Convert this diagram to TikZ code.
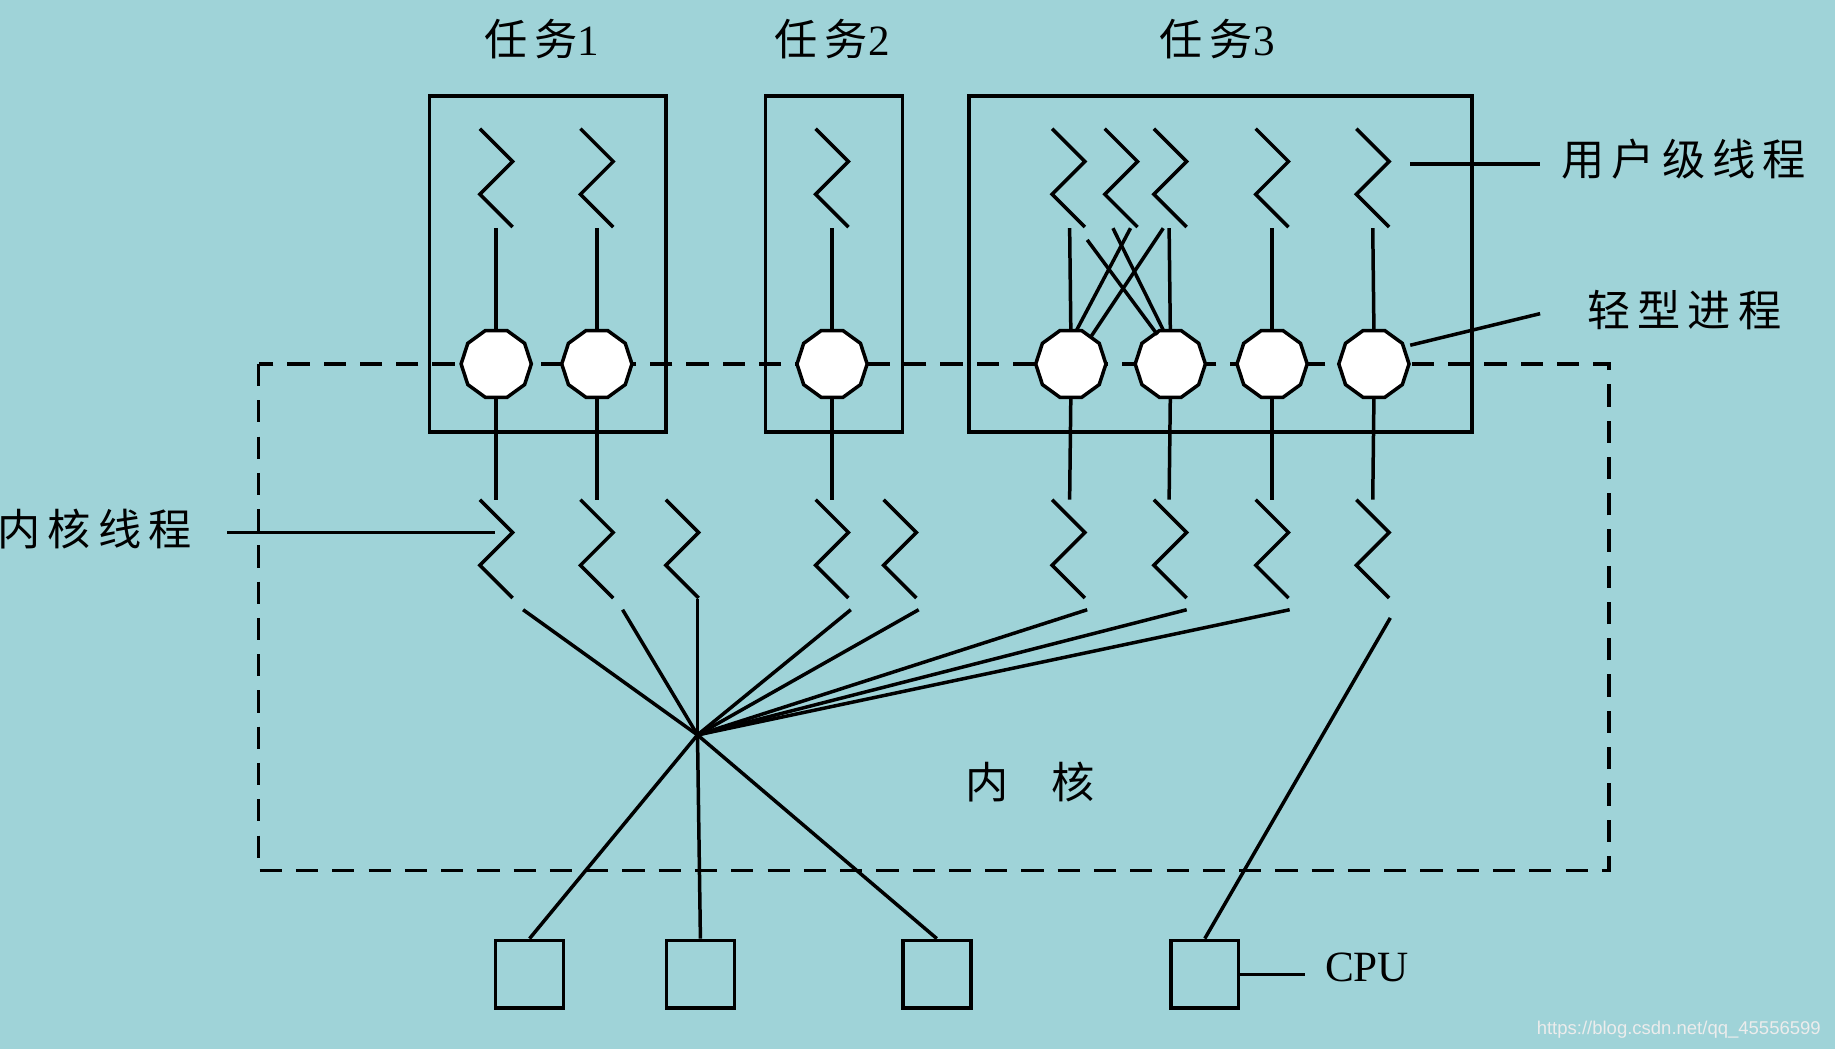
\documentclass[tikz,border=0pt]{standalone}
\usepackage{fontspec}
\setmainfont{Liberation Serif}
\setsansfont{Liberation Sans}
\newfontfamily\cjk{Noto Sans CJK SC}
\usetikzlibrary{shapes.geometric}
\definecolor{bg}{HTML}{9FD3D8}
\tikzset{
  ln/.style={line width=1.7pt},
  lwp/.style={regular polygon,regular polygon sides=10,minimum size=60*0.02cm,inner sep=0pt,draw,fill=white,line width=1.7pt},
  cpu/.style={draw,line width=1.7pt,minimum size=58*0.02cm,inner sep=0pt},
  lbl/.style={font=\fontsize{21}{25}\selectfont\cjk},
}
% zigzag with top-left corner at (#1,#2)
\newcommand{\zz}[2]{\draw[ln] (#1,#2) -- ++(28,28) -- ++(-28,28) -- ++(28,28);}
\begin{document}
\begin{tikzpicture}[x=0.02cm,y=-0.02cm]
\fill[bg] (0,0) rectangle (1568,896);
\useasboundingbox (0,0) rectangle (1568,896);
% dashed kernel border
\draw[ln,dash pattern=on 0.38cm off 0.24cm] (221,311) rectangle (1375,744);
% tasks
\draw[ln] (367,82) rectangle (569,369);
\draw[ln] (654,82) rectangle (771,369);
\draw[ln] (828,82) rectangle (1258,369);
\node[lbl] (t1) at (463,33) {任\,务{\rmfamily 1}};
\node[lbl] (t2) at (711,33) {任\,务{\rmfamily 2}};
\node[lbl] (t3) at (1040,33) {任\,务{\rmfamily 3}};
% user threads
\foreach \x in {410,496,697,899,944,986,1073,1159} {\zz{\x}{110}}
% LWPs
\foreach \n/\x in {1/424,2/510,3/711,4/915,5/1000,6/1087,7/1174}
  \node[lwp] (p\n) at (\x,311) {};
\draw[ln] (p1.north) -- (424,195);
\draw[ln] (p2.north) -- (510,195);
\draw[ln] (p3.north) -- (711,195);
\draw[ln] (p4.north) -- (914,195);
\draw[ln] (p5.north) -- (999,195);
\draw[ln] (p6.north) -- (1087,195);
\draw[ln] (p7.north) -- (1173,195);
\draw[ln] (929,205) -- (989,286);
\draw[ln] (951,195) -- (994,282);
\draw[ln] (966,195) -- (920,282);
\draw[ln] (994,195) -- (932,288);
% kernel threads
\foreach \x in {410,496,569,697,755,899,986,1073,1159} {\zz{\x}{427}}
\draw[ln] (p1.south) -- (424,427);
\draw[ln] (p2.south) -- (510,427);
\draw[ln] (p3.south) -- (711,427);
\draw[ln] (p4.south) -- (914,427);
\draw[ln] (p5.south) -- (999,427);
\draw[ln] (p6.south) -- (1087,427);
\draw[ln] (p7.south) -- (1173,427);
% hub
\coordinate (hub) at (596,628);
\foreach \x/\y in {447/521,532/521,596/512,727/521,785/521,929/521,1014/521,1102/521}
  \draw[ln] (\x,\y) -- (hub);
% CPUs
\node[cpu,anchor=north west] (c1) at (422,802) {};
\node[cpu,anchor=north west] (c2) at (568,802) {};
\node[cpu,anchor=north west] (c3) at (770,802) {};
\node[cpu,anchor=north west] (c4) at (999,802) {};
\draw[ln] (hub) -- (c1.north);
\draw[ln] (hub) -- (c2.north);
\draw[ln] (hub) -- (c3.north);
\draw[ln] (1188,528) -- (c4.north);
% labels
\coordinate (cpuL) at (1115,829);
\node[lbl,anchor=west] (cpu) at (1126,827) {\rmfamily CPU};
\draw[ln] (c4.east) -- (c4.east -| cpuL);
\coordinate (utL) at (1316,140);
\node[lbl,anchor=west] (ut) at (1328,136) {用\,户\,级\,线\,程};
\draw[ln] (1205,140) -- (utL);
\coordinate (lwL) at (1316,268);
\node[lbl,anchor=west] (lw) at (1350,265) {轻\,型\,进\,程};
\draw[ln] (1205,295) -- (lwL);
\coordinate (ktL) at (194,455);
\node[lbl,anchor=east] (kt) at (170,452) {内\,核\,线\,程};
\draw[ln] (ktL) -- (423,455);
\node[lbl] (kn) at (880,668) {内\quad 核};
\node[font=\fontsize{9}{10}\selectfont\sffamily,text=white!85!gray,anchor=east] (wm) at (1562,880) {https://blog.csdn.net/qq\_45556599};
\end{tikzpicture}
\end{document}
